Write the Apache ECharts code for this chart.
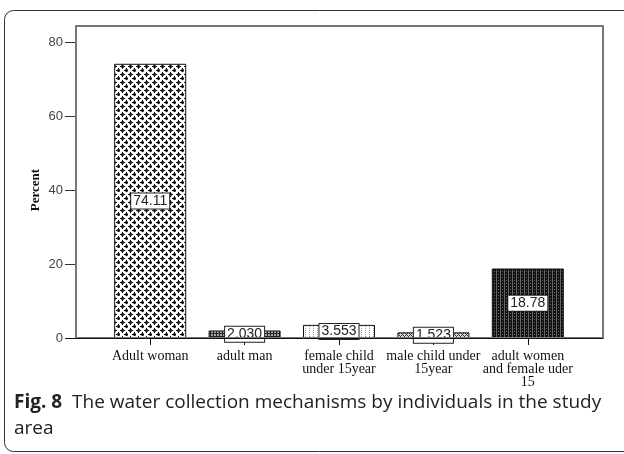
<!DOCTYPE html>
<html>
  <head>
    <meta charset="utf-8" />
    <title>Fig. 8</title>
    <style>
      html, body { margin: 0; padding: 0; background: #ffffff; }
    </style>
  </head>
  <body>
    <div id="chart" style="width: 624px; height: 454px;"></div>
    <script src="https://cdn.jsdelivr.net/npm/echarts@6/dist/echarts.min.js"></script>
    <script type="text/javascript">
      // data
      var categories = [
        "Adult woman",
        "adult man",
        "female child\nunder 15year",
        "male child under\n15year",
        "adult women\nand female uder\n15"
      ];
      var percents = [74.11, 2.03, 3.553, 1.523, 18.78];
      var valueLabels = ["74.11", "2.030", "3.553", "1.523", "18.78"];
      var yTicks = [0, 20, 40, 60, 80];

      // little fill patterns, one per bar
      function plus(ctx, cx, cy) {
        ctx.fillStyle = "#777777";
        ctx.fillRect(cx - 1, cy - 1, 3, 3);
        ctx.fillStyle = "#111111";
        ctx.fillRect(cx, cy - 2, 1, 5);
        ctx.fillRect(cx - 2, cy, 5, 1);
      }
      function makePattern(kind) {
        var c = document.createElement("canvas");
        var ctx = c.getContext("2d");
        if (kind == 0) {
          c.width = 8; c.height = 8;
          ctx.fillStyle = "#ffffff"; ctx.fillRect(0, 0, 8, 8);
          plus(ctx, 2, 2);
          plus(ctx, 6, 6);
        } else if (kind == 1) {
          c.width = 3; c.height = 3;
          ctx.fillStyle = "#222222"; ctx.fillRect(0, 0, 3, 3);
          ctx.fillStyle = "#aaaaaa"; ctx.fillRect(1, 1, 2, 2);
        } else if (kind == 2) {
          c.width = 4; c.height = 2;
          ctx.fillStyle = "#ffffff"; ctx.fillRect(0, 0, 4, 2);
          ctx.fillStyle = "#999999"; ctx.fillRect(1, 0, 1, 1);
        } else if (kind == 3) {
          c.width = 4; c.height = 4;
          ctx.fillStyle = "#dddddd"; ctx.fillRect(0, 0, 4, 4);
          ctx.fillStyle = "#333333";
          ctx.fillRect(0, 0, 1, 1); ctx.fillRect(1, 1, 1, 1);
          ctx.fillRect(2, 2, 1, 1); ctx.fillRect(3, 3, 1, 1);
          ctx.fillRect(3, 1, 1, 1); ctx.fillRect(1, 3, 1, 1);
        } else {
          c.width = 4; c.height = 3;
          ctx.fillStyle = "#111111"; ctx.fillRect(0, 0, 4, 3);
          ctx.fillStyle = "#666666";
          ctx.fillRect(0, 0, 1, 3);
          ctx.fillRect(2, 1, 1, 1);
        }
        return { image: c, repeat: "repeat" };
      }

      var chart = echarts.init(document.getElementById("chart"));

      var barData = percents.map(function (v, i) {
        return {
          value: v,
          itemStyle: { color: makePattern(i) },
          label: { formatter: valueLabels[i] }
        };
      });

      var option = {
        animation: false,
        backgroundColor: "#ffffff",
        grid: { left: 103, right: 49, top: 42, bottom: 116 },
        xAxis: {
          type: "category",
          data: categories,
          axisLine: { show: false },
          axisTick: {
            show: true,
            alignWithLabel: true,
            length: 7,
            lineStyle: { color: "#111111", width: 1 }
          },
          axisLabel: {
            interval: 0,
            margin: 12,
            color: "#111111",
            fontFamily: "Liberation Serif",
            fontSize: 14,
            lineHeight: 13
          }
        },
        yAxis: {
          type: "value",
          min: 0,
          max: 80,
          interval: 20,
          offset: 27,
          name: "Percent",
          nameLocation: "middle",
          nameGap: 34,
          nameMoveOverlap: false,
          nameTextStyle: {
            fontFamily: "Liberation Serif",
            fontWeight: "bold",
            fontSize: 13,
            color: "#111111"
          },
          splitLine: { show: false },
          axisLine: { show: false },
          axisTick: {
            show: true,
            length: 11,
            lineStyle: { color: "#333333", width: 1 }
          },
          axisLabel: {
            margin: 13,
            color: "#444444",
            fontFamily: "Liberation Sans",
            fontSize: 13,
            formatter: function (v) {
              return yTicks.indexOf(v) >= 0 ? String(v) : "";
            }
          }
        },
        series: [
          {
            type: "bar",
            data: barData,
            barWidth: 72,
            itemStyle: { borderColor: "#111111", borderWidth: 1 },
            label: {
              show: true,
              position: "inside",
              color: "#222222",
              fontFamily: "Liberation Sans",
              fontSize: 14,
              backgroundColor: "#ffffff",
              borderColor: "#222222",
              borderWidth: 1,
              padding: [1, 2, 0, 2]
            }
          }
        ],
        graphic: [
          {
            // outer rounded panel
            type: "rect",
            shape: { x: 4.5, y: 10.5, width: 640, height: 441, r: 9 },
            style: { fill: null, stroke: "#333333", lineWidth: 1 },
            silent: true
          },
          {
            // plot frame
            type: "rect",
            shape: { x: 76, y: 26, width: 527, height: 312 },
            style: { fill: null, stroke: "#777777", lineWidth: 2 },
            silent: true,
            z: 10
          },
          {
            type: "line",
            shape: { x1: 66, y1: 338.5, x2: 603, y2: 338.5 },
            style: { stroke: "#111111", lineWidth: 1 },
            silent: true,
            z: 11
          },
          {
            type: "text",
            left: 14,
            top: 390,
            style: {
              text: "{b|Fig. 8}  The water collection mechanisms by individuals in the study\narea",
              fontFamily: "Open Sans",
              fontSize: 19,
              lineHeight: 26,
              fill: "#222222",
              rich: {
                b: { fontFamily: "Open Sans", fontWeight: "bold", fontSize: 19, fill: "#222222" }
              }
            }
          }
        ]
      };
      chart.setOption(option);
    </script>
  </body>
</html>
